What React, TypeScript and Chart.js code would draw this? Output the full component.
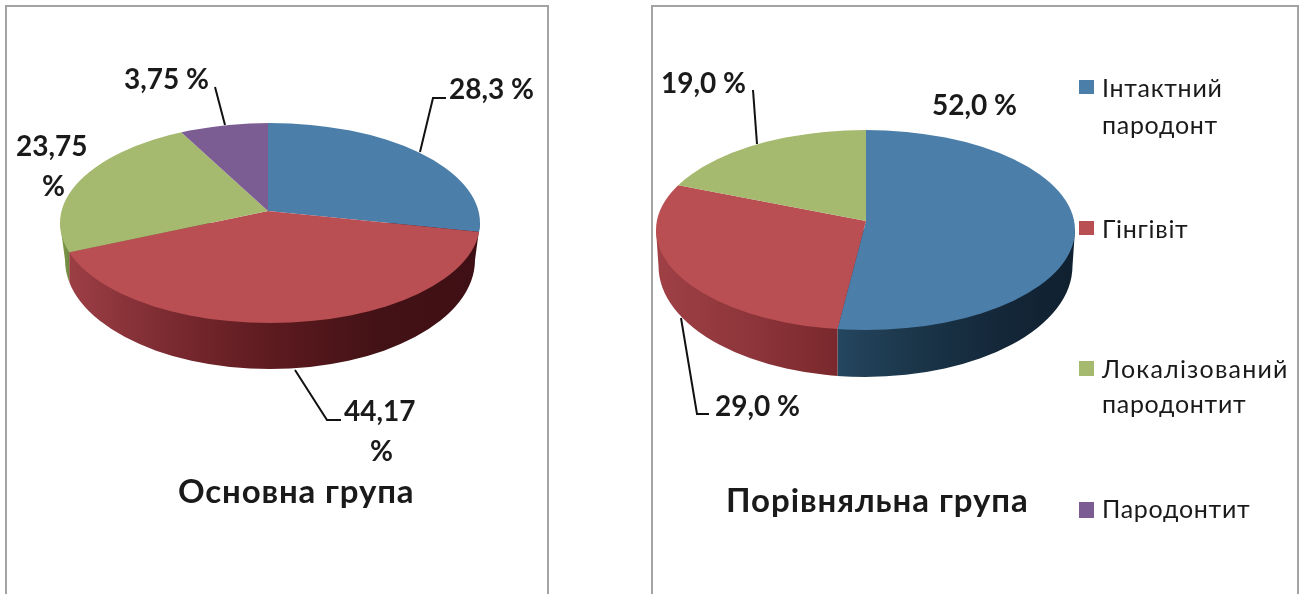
import React, { useEffect, useRef } from "react";
import { Chart, registerables } from "chart.js";

Chart.register(...registerables);

const categories = ["Інтактний пародонт", "Гінгівіт", "Локалізований пародонтит", "Пародонтит"];
const mainGroupTitle = "Основна група";
const compareGroupTitle = "Порівняльна група";
// Slice shares as drawn in the picture (the printed labels are kept as text below)
const mainGroupShares = [28.7, 39.0, 25.4, 6.9];
const compareGroupShares = [52, 29, 19, 0];
const sliceColors = ["#4b7ea9", "#b94f53", "#a5b96f", "#7b5d94"];

const FONT = "Lato, Carlito, 'Open Sans', sans-serif";

type Pie3D = {
  originX: number; // canvas left on the page
  tilt: number;
  cx: number; cy: number; // wedge apex
  ex: number; ey: number; rx: number; ry: number; // top rim
  bx: number; by: number; brx: number; bry: number; // lower rim
  sides: string[][];
  leaders: number[][][];
};

const mainCfg: Pie3D = {
  originX: 0,
  tilt: 0.42,
  cx: 268, cy: 211,
  ex: 270, ey: 223, rx: 210, ry: 100,
  bx: 270, by: 260, brx: 205, bry: 109,
  sides: [
    ["#1c3850", "#10202f"],
    ["#9c3f45", "#7a2a30", "#5c1a1f", "#431216", "#3e0f14"],
    ["#86a050", "#6f8a40"],
    ["#5d4672", "#4a3660"],
  ],
  leaders: [
    [[420, 152], [433, 98], [446, 98]],
    [[225, 125], [215, 87]],
    [[295, 370], [327, 420], [341, 420]],
  ],
};

const compareCfg: Pie3D = {
  originX: 640,
  tilt: 0.48,
  cx: 866, cy: 221,
  ex: 865.5, ey: 230, rx: 209.5, ry: 100,
  bx: 865.5, by: 266, brx: 207, bry: 111,
  sides: [
    ["#24465f", "#1b3549", "#14283a", "#10202f"],
    ["#9f4045", "#8e363b", "#7a282d"],
    ["#86a050", "#6f8a40"],
    ["#5d4672", "#4a3660"],
  ],
  leaders: [
    [[757, 144], [753, 90]],
    [[681, 318], [697, 414], [709, 414]],
  ],
};

function rimPoint(c: Pie3D, theta: number) {
  // theta: canvas radians. Ray from the apex, flattened by the tilt, met with the top rim.
  const dx = Math.cos(theta);
  const dy = Math.sin(theta) * c.tilt;
  const ox = (c.cx - c.ex) / c.rx;
  const oy = (c.cy - c.ey) / c.ry;
  const ax = dx / c.rx;
  const ay = dy / c.ry;
  const A = ax * ax + ay * ay;
  const B = 2 * (ox * ax + oy * ay);
  const C = ox * ox + oy * oy - 1;
  const t = (-B + Math.sqrt(B * B - 4 * A * C)) / (2 * A);
  return { x: c.cx + dx * t, y: c.cy + dy * t };
}

function pie3dPlugin(c: Pie3D) {
  return {
    id: "pie3d",
    beforeDatasetsDraw(chart: any) {
      const ctx: CanvasRenderingContext2D = chart.ctx;
      const arcs = chart.getDatasetMeta(0).data;
      const off = c.originX;
      ctx.save();
      ctx.translate(-off, 0);
      arcs.forEach((arc: any, i: number) => {
        const { startAngle, endAngle } = arc.getProps(["startAngle", "endAngle"]);
        if (endAngle - startAngle <= 0) return;
        let minX = Infinity;
        let maxX = -Infinity;
        const steps = 300;
        for (let k = 0; k <= steps; k++) {
          const p = rimPoint(c, startAngle + ((endAngle - startAngle) * k) / steps);
          if (p.y >= c.ey) {
            minX = Math.min(minX, p.x);
            maxX = Math.max(maxX, p.x);
          }
        }
        if (!isFinite(minX)) return;
        const grad = ctx.createLinearGradient(minX, 0, maxX, 0);
        const stops = c.sides[i];
        stops.forEach((col, k) => grad.addColorStop(k / (stops.length - 1), col));
        ctx.save();
        ctx.beginPath();
        ctx.rect(minX, 0, maxX - minX, 594);
        ctx.clip();
        ctx.beginPath();
        ctx.ellipse(c.bx, c.by, c.brx, c.bry, 0, 0, Math.PI);
        ctx.lineTo(c.ex - c.rx, c.ey);
        ctx.lineTo(c.ex + c.rx, c.ey);
        ctx.closePath();
        ctx.fillStyle = grad;
        ctx.fill();
        ctx.restore();
      });
      // Top face: clip to the rim, flatten the library's arcs about the apex
      ctx.save();
      ctx.beginPath();
      ctx.ellipse(c.ex, c.ey, c.rx, c.ry, 0, 0, Math.PI * 2);
      ctx.clip();
      const a0 = arcs[0];
      ctx.translate(c.cx, c.cy);
      ctx.scale(1, c.tilt);
      ctx.translate(-a0.x, -a0.y);
    },
    afterDatasetsDraw(chart: any) {
      const ctx: CanvasRenderingContext2D = chart.ctx;
      ctx.restore();
      ctx.strokeStyle = "#111111";
      ctx.lineWidth = 2;
      ctx.lineJoin = "miter";
      c.leaders.forEach((pts) => {
        ctx.beginPath();
        pts.forEach(([x, y], i) => (i ? ctx.lineTo(x, y) : ctx.moveTo(x, y)));
        ctx.stroke();
      });
      ctx.restore();
    },
  };
}

function PieCanvas({ shares, cfg, left, width }: { shares: number[]; cfg: Pie3D; left: number; width: number }) {
  const ref = useRef<HTMLCanvasElement>(null);
  useEffect(() => {
    const chart = new Chart(ref.current as HTMLCanvasElement, {
      type: "pie",
      data: {
        labels: categories,
        datasets: [{ data: shares, backgroundColor: sliceColors, borderWidth: 0 }],
      },
      options: {
        responsive: false,
        animation: false,
        radius: 300,
        layout: { padding: 0 },
        plugins: { legend: { display: false }, tooltip: { enabled: false } },
      } as any,
      plugins: [pie3dPlugin(cfg)],
    });
    return () => chart.destroy();
  }, []);
  return <canvas ref={ref} width={width} height={594} style={{ position: "absolute", left, top: 0, width, height: 594 }} />;
}

function Txt({ x, y, size, weight, spacing, children }: any) {
  return (
    <div
      style={{
        position: "absolute",
        left: x,
        top: y - size,
        height: size * 2,
        lineHeight: `${size * 2}px`,
        fontFamily: FONT,
        fontSize: size,
        fontWeight: weight,
        letterSpacing: spacing,
        color: "#1a1a1a",
        whiteSpace: "nowrap",
      }}
    >
      {children}
    </div>
  );
}

const panelStyle = (left: number, width: number): React.CSSProperties => ({
  position: "absolute",
  left,
  top: 5,
  width,
  height: 640,
  border: "2px solid #a3a3a3",
  boxSizing: "border-box",
  background: "#fff",
});

const valueStyle = { size: 28, weight: 700, spacing: 0 };
const legendStyle = { size: 25, weight: 400, spacing: 0.7 };

export default function App() {
  const swatches = [
    { top: 80, h: 14 },
    { top: 221, h: 14 },
    { top: 361, h: 15 },
    { top: 502, h: 16 },
  ];
  return (
    <div style={{ position: "absolute", left: 0, top: 0, width: 1300, height: 594, overflow: "hidden", background: "#fff" }}>
      <div style={panelStyle(5, 544)} />
      <div style={panelStyle(651, 648)} />
      <PieCanvas shares={mainGroupShares} cfg={mainCfg} left={0} width={600} />
      <PieCanvas shares={compareGroupShares} cfg={compareCfg} left={640} width={660} />

      <Txt x={449} y={88} {...valueStyle}>28,3 %</Txt>
      <Txt x={124} y={78} {...valueStyle}>3,75 %</Txt>
      <Txt x={16} y={145} {...valueStyle}>23,75</Txt>
      <Txt x={42} y={185} {...valueStyle}>%</Txt>
      <Txt x={344} y={410} {...valueStyle}>44,17</Txt>
      <Txt x={370} y={450} {...valueStyle}>%</Txt>
      <Txt x={932} y={104} {...valueStyle}>52,0 %</Txt>
      <Txt x={661} y={82} {...valueStyle}>19,0 %</Txt>
      <Txt x={715} y={405} {...valueStyle}>29,0 %</Txt>

      <Txt x={178} y={490} size={33} weight={700} spacing={0.85}>{mainGroupTitle}</Txt>
      <Txt x={726} y={499} size={33} weight={700} spacing={0.95}>{compareGroupTitle}</Txt>

      {swatches.map((s, i) => (
        <div key={i} style={{ position: "absolute", left: 1079, top: s.top, width: 15, height: s.h, background: sliceColors[i] }} />
      ))}
      <Txt x={1102} y={87} {...legendStyle}>Інтактний</Txt>
      <Txt x={1102} y={124} {...legendStyle}>пародонт</Txt>
      <Txt x={1102} y={228} {...legendStyle}>Гінгівіт</Txt>
      <Txt x={1102} y={368} {...legendStyle} spacing={1.2}>Локалізований</Txt>
      <Txt x={1102} y={403} {...legendStyle}>пародонтит</Txt>
      <Txt x={1102} y={508} {...legendStyle}>Пародонтит</Txt>
    </div>
  );
}
